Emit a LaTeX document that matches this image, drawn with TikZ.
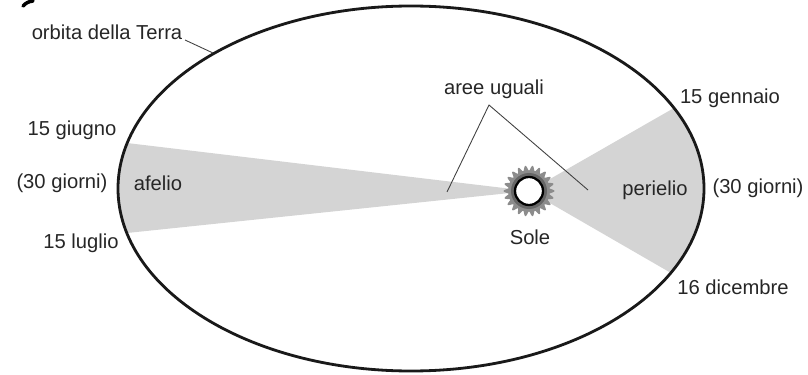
\documentclass[tikz,border=0pt]{standalone}
\usepackage{fontspec}
\setmainfont{Liberation Sans}
\usetikzlibrary{calc}

\begin{document}
\begin{tikzpicture}[x=0.02cm,y=-0.02cm,
  every node/.style={font=\fontsize{11.5}{13}\selectfont,text=black!85,inner sep=1pt},
  leader/.style={line width=0.5pt,black!75},
  area/.style={fill=black!17}]
\useasboundingbox (0,0) rectangle (808,375);
% orbit and sun
\coordinate (c) at (411,188.5);
\coordinate (sun) at (529,191);
% points on the orbit
\coordinate (giu) at (127,143); \coordinate (lug) at (127,233);
\coordinate (gen) at (674,108); \coordinate (dic) at (671,273);
% equal areas
\begin{scope}
\clip (c) ellipse [x radius=293,y radius=182.5];
\fill[area] (sun) -- ($(sun)!1.3!(giu)$) -- ($(sun)!1.3!(lug)$) -- cycle;
\fill[area] (sun) -- ($(sun)!1.3!(gen)$) -- ($(sun)!1.3!(dic)$) -- cycle;
\end{scope}
\draw[line width=1.6pt,black!90] (c) ellipse [x radius=293,y radius=182.5];
% sun
\fill[black!45] plot[domain=0:360,samples=181,smooth] ({529+(23+2.5*cos(22*\x))*cos(\x)},{191+(23+2.5*cos(22*\x))*sin(\x)});
\fill[black!60] (sun) circle [radius=18];
\draw[line width=1.3pt,fill=white] (sun) circle [radius=14];
% stray mark of the cut-off label
\draw[line width=2pt,line cap=round] (23,6) to[bend left=20] (33,1);
% labels
\node (orbita) at (107,32) {orbita della Terra};
\coordinate (orbA) at (185,40); \coordinate (orbB) at (213,53);
\draw[leader] (orbA) -- (orbB);
\node (giugno) at (72,130) {15 giugno};
\node (giorniL) at (62,183) {(30 giorni)};
\node (afelio) at (158,183) {afelio};
\node (luglio) at (81,243) {15 luglio};
\node (aree) at (494,89) {aree uguali};
\coordinate (apex) at (489,105);
\coordinate (arL) at (447,192); \coordinate (arR) at (588,190);
\draw[leader] (arL) -- (apex) -- (arR);
\node (sole) at (530,237) {Sole};
\node (gennaio) at (730,98) {15 gennaio};
\node (perielio) at (655,190) {perielio};
\node (giorniR) at (758,188) {(30 giorni)};
\node (dicembre) at (733,287) {16 dicembre};
\end{tikzpicture}
\end{document}
